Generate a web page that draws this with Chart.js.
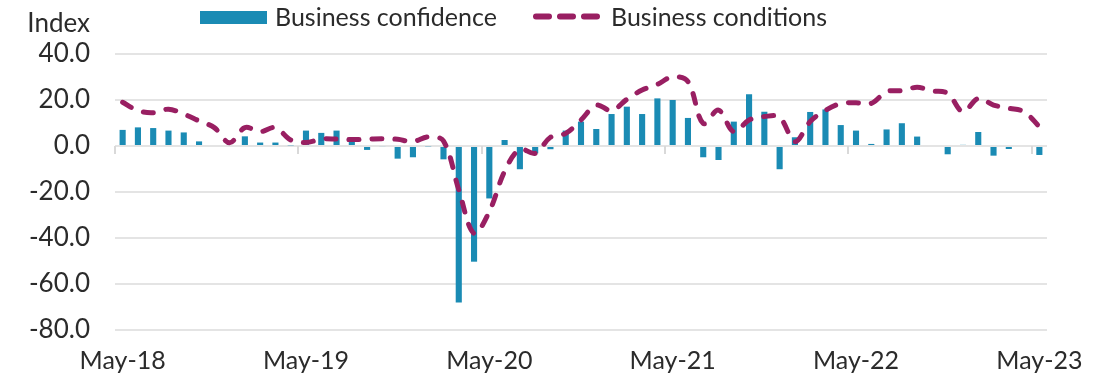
<!DOCTYPE html>
<html>
<head>
<meta charset="utf-8">
<title>Business confidence and conditions</title>
<script src="https://cdn.jsdelivr.net/npm/chart.js@4/dist/chart.umd.min.js"></script>
<style>
  html, body { margin: 0; padding: 0; background: #ffffff; }
  canvas { display: block; }
</style>
</head>
<body>
<canvas id="chart" width="1117" height="378"></canvas>
<script>
// Monthly categories, May 2018 to May 2023
const categories = [
  'May-18','Jun-18','Jul-18','Aug-18','Sep-18','Oct-18','Nov-18','Dec-18',
  'Jan-19','Feb-19','Mar-19','Apr-19','May-19','Jun-19','Jul-19','Aug-19','Sep-19','Oct-19','Nov-19','Dec-19',
  'Jan-20','Feb-20','Mar-20','Apr-20','May-20','Jun-20','Jul-20','Aug-20','Sep-20','Oct-20','Nov-20','Dec-20',
  'Jan-21','Feb-21','Mar-21','Apr-21','May-21','Jun-21','Jul-21','Aug-21','Sep-21','Oct-21','Nov-21','Dec-21',
  'Jan-22','Feb-22','Mar-22','Apr-22','May-22','Jun-22','Jul-22','Aug-22','Sep-22','Oct-22','Nov-22','Dec-22',
  'Jan-23','Feb-23','Mar-23','Apr-23','May-23'
];

// Business confidence index (bars)
const confidence = [
  7.0, 8.1, 7.8, 6.7, 5.9, 2.0, 0.0, 0.0,
  4.2, 1.5, 1.5, 0.3, 6.7, 5.7, 6.7, 2.5, -1.7, -0.4, -5.5, -4.9,
  -0.3, -5.8, -68.0, -50.3, -22.8, 2.6, -10.1, -3.2, -1.4, 6.7, 10.6, 7.4,
  13.9, 17.1, 13.9, 20.7, 20.0, 12.2, -4.9, -6.1, 10.6, 22.5, 14.9, -10.1,
  3.8, 14.8, 15.9, 9.1, 6.7, 0.9, 7.2, 9.9, 4.1, 0.0, -3.6, 0.5,
  6.1, -4.2, -1.3, 0.0, -3.9
];

// Business conditions index (dashed line)
const conditions = [
  19.0, 15.4, 14.5, 16.0, 13.9, 10.9, 8.0, 1.4,
  8.0, 6.2, 8.0, 2.6, 1.5, 3.0, 3.0, 2.8, 2.9, 3.2, 2.9, 1.9,
  4.0, 2.2, -19.0, -38.0, -28.5, -11.0, -1.4, -3.2, 3.8, 5.5, 11.3, 17.8,
  15.4, 20.3, 24.3, 26.8, 30.1, 28.0, 9.8, 15.6, 6.2, 11.3, 12.8, 12.5,
  1.9, 10.6, 15.5, 18.5, 18.8, 18.5, 23.6, 24.1, 25.5, 24.0, 22.9, 14.9,
  20.7, 17.8, 16.4, 14.9, 8.4
];

// Labels shown on the category axis
const xTickLabels = ['May-18', 'May-19', 'May-20', 'May-21', 'May-22', 'May-23'];

const FONT = 'Lato';
const TEXT = '#2b2b2b';
const BLUE = '#1a8bb4';
const PLUM = '#991f62';
const GRID = '#e4e4e4';

// Small tick marks hanging off the zero line at each yearly boundary
const zeroTicks = {
  id: 'zeroTicks',
  beforeDatasetsDraw(chart) {
    const x = chart.scales.x, y = chart.scales.y;
    const half = (x.getPixelForValue(1) - x.getPixelForValue(0)) / 2;
    const y0 = y.getPixelForValue(0);
    const ctx = chart.ctx;
    ctx.save();
    ctx.strokeStyle = '#d9d9d9';
    ctx.lineWidth = 2;
    categories.forEach((c, i) => {
      if (xTickLabels.includes(c)) {
        const px = Math.round(x.getPixelForValue(i) - half);
        ctx.beginPath();
        ctx.moveTo(px, y0);
        ctx.lineTo(px, y0 + 8);
        ctx.stroke();
      }
    });
    ctx.restore();
  }
};

// Axis unit caption and a one-row legend across the top
const header = {
  id: 'header',
  afterDraw(chart) {
    const ctx = chart.ctx;
    const ds = chart.data.datasets;
    ctx.save();
    ctx.fillStyle = TEXT;
    ctx.textBaseline = 'alphabetic';
    ctx.font = '26px ' + FONT;
    ctx.textAlign = 'right';
    ctx.fillText('Index', 90, 32);

    ctx.font = '25px ' + FONT;
    ctx.textAlign = 'left';
    // bar swatch
    ctx.fillStyle = ds[0].backgroundColor;
    ctx.fillRect(200, 11, 67, 13);
    ctx.fillStyle = TEXT;
    ctx.fillText(ds[0].label, 275, 25.5);

    // dashed line swatch
    ctx.strokeStyle = ds[1].borderColor;
    ctx.lineWidth = 6;
    ctx.lineCap = 'round';
    ctx.setLineDash([13, 11]);
    ctx.beginPath();
    ctx.moveTo(536, 16.5);
    ctx.lineTo(597, 16.5);
    ctx.stroke();
    ctx.setLineDash([]);
    ctx.fillText(ds[1].label, 611, 25.5);
    ctx.restore();
  }
};

new Chart(document.getElementById('chart'), {
  data: {
    labels: categories,
    datasets: [
      {
        type: 'bar',
        label: 'Business confidence',
        data: confidence,
        backgroundColor: BLUE,
        barPercentage: 0.8,
        categoryPercentage: 0.5,
        order: 2
      },
      {
        type: 'line',
        label: 'Business conditions',
        data: conditions,
        borderColor: PLUM,
        backgroundColor: PLUM,
        borderWidth: 5,
        borderDash: [10, 13],
        borderCapStyle: 'round',
        borderJoinStyle: 'round',
        tension: 0.35,
        pointRadius: 0,
        pointHoverRadius: 0,
        fill: false,
        order: 1
      }
    ]
  },
  options: {
    responsive: false,
    animation: false,
    devicePixelRatio: 1,
    layout: { padding: { top: 54, right: 70, bottom: 0, left: 0 } },
    plugins: {
      legend: { display: false },
      tooltip: { enabled: false },
      title: { display: false }
    },
    scales: {
      x: {
        type: 'category',
        offset: true,
        grid: { display: false, drawTicks: false, offset: true },
        border: { display: false },
        ticks: {
          autoSkip: false,
          maxRotation: 0,
          minRotation: 0,
          padding: 16,
          color: TEXT,
          font: { family: FONT, size: 25 },
          callback: function (value) {
            const lab = this.getLabelForValue(value);
            return xTickLabels.includes(lab) ? lab : '';
          }
        },
        afterFit(scale) { scale.height = 48; }
      },
      y: {
        min: -80,
        max: 40,
        grid: {
          color: GRID,
          lineWidth: 2,
          drawTicks: false
        },
        border: { display: false },
        ticks: {
          stepSize: 20,
          padding: 25,
          color: TEXT,
          font: { family: FONT, size: 26 },
          callback: (v) => Number(v).toFixed(1)
        },
        afterFit(scale) { scale.width = 115; }
      }
    }
  },
  plugins: [zeroTicks, header]
});
</script>
</body>
</html>
